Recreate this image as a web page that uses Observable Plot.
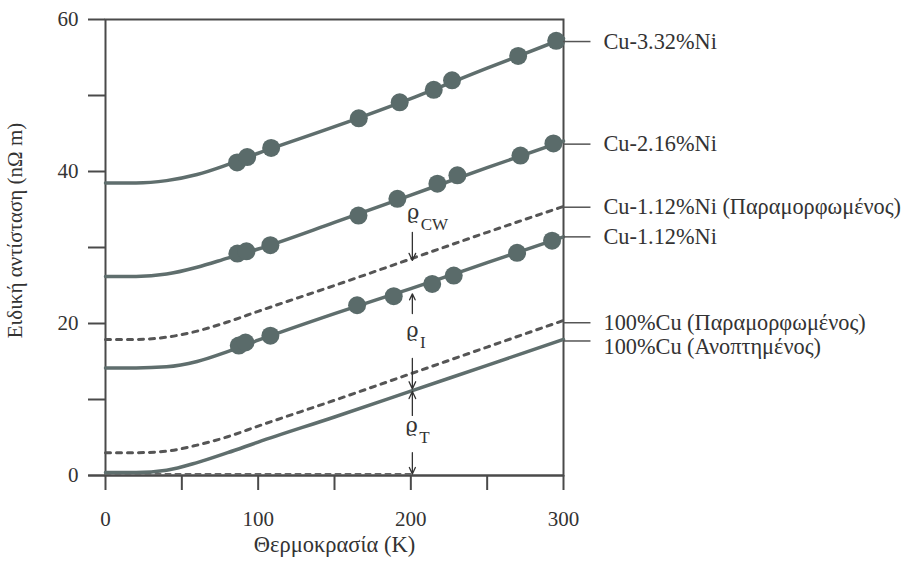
<!DOCTYPE html>
<html><head><meta charset="utf-8">
<script src="https://cdn.jsdelivr.net/npm/d3@7"></script>
<script src="https://cdn.jsdelivr.net/npm/@observablehq/plot@0.6"></script>
<style>
body{margin:0;background:#fff;}
#chart svg{display:block;}
#chart svg, #chart svg text{font-family:"Liberation Serif","DejaVu Serif",serif !important;}
#chart svg text.rho{font-family:"DejaVu Serif",serif !important;}
</style>
</head><body><div id="chart"></div>
<script>
// Smooth curve knots (temperature K, resistivity nΩ m)
const curveT = [0, 20, 40, 60, 80, 100, 150, 200, 250, 300];
const cu332Curve = [38.5, 38.5, 38.8, 39.6, 40.9, 42.4, 45.9, 49.6, 53.6, 57.5];
const cu216Curve = [26.2, 26.2, 26.5, 27.4, 28.6, 29.8, 33.3, 36.9, 40.5, 44.0];
const cu112DefCurve = [17.9, 17.9, 18.2, 19.0, 20.2, 21.6, 25.0, 28.5, 32.0, 35.4];
const cu112Curve = [14.15, 14.15, 14.3, 15.0, 16.3, 17.8, 21.3, 24.6, 28.0, 31.4];
const cuDefCurve = [3.0, 3.0, 3.2, 4.0, 5.1, 6.5, 9.9, 13.4, 16.9, 20.4];
const cuAnnCurve = [0.4, 0.4, 0.7, 1.7, 3.0, 4.4, 7.7, 11.1, 14.5, 17.9];
const residualT = [0, 200];
const residualV = [0.2, 0.2];

// Measured points
const cu332T = [86.2, 92.8, 108.5, 165.9, 192.7, 215, 227, 270.3, 295.2];
const cu332V = [41.2, 41.9, 43.1, 47.0, 49.1, 50.75, 52.0, 55.2, 57.2];
const cu216T = [86.4, 92.3, 108, 165.7, 191.2, 217.4, 230.5, 271.8, 293.4];
const cu216V = [29.2, 29.5, 30.3, 34.2, 36.4, 38.4, 39.5, 42.1, 43.7];
const cu112T = [87.3, 91.7, 108, 164.8, 188.8, 214, 228.1, 269.6, 292.5];
const cu112V = [17.1, 17.5, 18.4, 22.4, 23.6, 25.2, 26.3, 29.3, 30.9];

// Series labels at right
const seriesLabels = ["Cu-3.32%Ni", "Cu-2.16%Ni", "Cu-1.12%Ni (Παραμορφωμένος)", "Cu-1.12%Ni", "100%Cu (Παραμορφωμένος)", "100%Cu (Ανοπτημένος)"];
const leaderV = [57.1, 43.6, 35.3, 31.4, 20.1, 17.7];
const labelV = [57.1, 43.6, 35.3, 31.4, 20.1, 16.9];

// Arrows at T ≈ 201 K
const arrowT = 201;
const arrowFrom = [32.0, 21.3, 15.4, 7.9, 3.0];
const arrowTo = [28.3, 23.9, 11.4, 11.05, 0.2];

// Annotation symbols
const rhoT = [201.5, 201, 200.5];
const rhoV = [34.6, 19.1, 6.6];
const subText = ["CW", "I", "T"];
const subT = [206.5, 206, 205.5];
const subV = [33.0, 17.5, 5.0];

// Axis ticks
const yTicks = [0, 10, 20, 30, 40, 50, 60];
const xTicks = [0, 50, 100, 150, 200, 250, 300];

const rows = (name, vs) => curveT.map((t, i) => ({series: name, T: t, v: vs[i]}));
const solid = [...rows("a", cu332Curve), ...rows("b", cu216Curve), ...rows("c", cu112Curve), ...rows("d", cuAnnCurve)];
const dashed = [...rows("e", cu112DefCurve), ...rows("f", cuDefCurve)];
const residual = residualT.map((t, i) => ({T: t, v: residualV[i]}));
const pts = [
  ...cu332T.map((t, i) => ({T: t, v: cu332V[i]})),
  ...cu216T.map((t, i) => ({T: t, v: cu216V[i]})),
  ...cu112T.map((t, i) => ({T: t, v: cu112V[i]}))
];
const labels = seriesLabels.map((s, i) => ({s, v: labelV[i], lv: leaderV[i]}));
const arrows = arrowFrom.map((f, i) => ({f, t: arrowTo[i]}));
const rhos = rhoT.map((t, i) => ({T: t, v: rhoV[i]}));
const subs = subText.map((s, i) => ({s, T: subT[i], v: subV[i]}));

const lineColor = "#5f6e6d";
const axisColor = "#4a4a4a";
const txt = "#333";

const chart = Plot.plot({
  width: 906, height: 563,
  marginLeft: 105, marginRight: 343, marginTop: 19, marginBottom: 88,
  x: {domain: [0, 300]},
  y: {domain: [0, 60]},
  style: {fontSize: "20px", color: txt, background: "#fff"},
  marks: [
    Plot.frame({stroke: axisColor, strokeWidth: 2}),
    Plot.axisY({ticks: yTicks, tickSize: 17, tickPadding: 10, tickFormat: d => d % 20 === 0 ? d : "", label: null, stroke: axisColor, strokeWidth: 2, fontSize: 21}),
    Plot.axisX({ticks: xTicks, tickSize: 15, tickPadding: 21, tickFormat: d => d % 100 === 0 ? d : "", label: null, stroke: axisColor, strokeWidth: 2, fontSize: 21}),
    Plot.ruleY([0], {x1: -11, x2: 300, stroke: axisColor, strokeWidth: 2}),
    Plot.text(["Ειδική αντίσταση (nΩ m)"], {frameAnchor: "left", textAnchor: "middle", rotate: -90, dx: -90, dy: -17, fontSize: 21, fill: txt}),
    Plot.text(["Θερμοκρασία (K)"], {frameAnchor: "bottom", dy: 76, fontSize: 22.5, fill: txt}),
    Plot.line(residual, {x: "T", y: "v", stroke: "#666", strokeWidth: 2, strokeDasharray: "5,5"}),
    Plot.line(dashed, {x: "T", y: "v", z: "series", curve: "monotone-x", stroke: "#555", strokeWidth: 3, strokeDasharray: "5,6"}),
    Plot.line(solid, {x: "T", y: "v", z: "series", curve: "monotone-x", stroke: lineColor, strokeWidth: 3.5}),
    Plot.dot(pts, {x: "T", y: "v", r: 9, fill: "#5a6b6a", stroke: "none"}),
    Plot.ruleY(labels, {y: "lv", x1: 300, x2: 318, stroke: "#555", strokeWidth: 1.5}),
    Plot.text(labels, {x: 300, y: "v", text: "s", dx: 40, textAnchor: "start", fontSize: 22.3, fill: txt}),
    Plot.arrow(arrows, {x1: arrowT, y1: "f", x2: arrowT, y2: "t", stroke: "#333", strokeWidth: 1.3, headLength: 9, headAngle: 50}),
    Plot.text(rhos, {x: "T", y: "v", text: () => "ϱ", fontSize: 21, fill: txt}),
    Plot.text(subs, {x: "T", y: "v", text: "s", textAnchor: "start", fontSize: 17, fill: txt})
  ]
});
chart.querySelectorAll("text").forEach(t => { if (t.textContent === "ϱ") t.setAttribute("class", "rho"); });
document.getElementById("chart").appendChild(chart);
</script>
</body></html>
